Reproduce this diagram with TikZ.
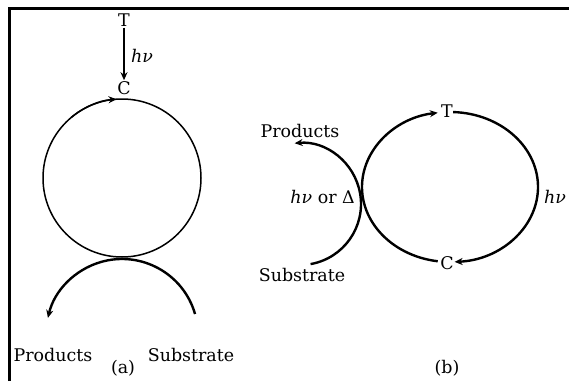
\documentclass[tikz,border=0pt]{standalone}
\usepackage{fontspec}
\setmainfont{DejaVu Serif}
\usetikzlibrary{arrows.meta}
\begin{document}
\begin{tikzpicture}[x=1bp,y=1bp,
  lbl/.style={inner sep=1pt,font=\fontsize{17.5}{20}\selectfont},
  thick1/.style={line width=1.5bp},
  thick2/.style={line width=2.4bp},
  tip/.style={-{Stealth[length=8bp,width=7bp]}}]
\useasboundingbox (0,0) rectangle (569,381);
% frame
\draw[line width=3bp] (9,0) -- (9,372) -- (569,372);
% (a)
\draw[thick1] (122,203) circle (79);
\draw[thick1,tip] (122,203) ++(130:79) arc (130:94:79);
\node[lbl] (Ta) at (124,361) {T};
\node[lbl] (Ca) at (124,293) {C};
\draw[line width=1.8bp,tip] (Ta) -- (Ca);
\node[lbl,anchor=west] (hva) at (130,325) {\textit{hν}};
\draw[thick2,tip] (122,46) ++(16:76) arc (16:167:76);
\node[lbl] (Pa) at (53,26) {Products};
\node[lbl] (Sa) at (191,26) {Substrate};
\node[lbl] (a) at (123,13) {(a)};
% (b)
\node[lbl] (Tb) at (447,270) {T};
\node[lbl] (Cb) at (447,118) {C};
\draw[thick2,tip] (450,194) ++(262:88 and 75) arc (262:98:88 and 75);
\draw[thick2,tip] (450,194) ++(88:88 and 75) arc (88:-87:88 and 75);
\draw[thick2,tip] (300,177) ++(-80:61) arc (-80:95:61);
\node[lbl] (Pb) at (300,250) {Products};
\node[lbl,anchor=east] (hvb) at (356,184) {\textit{hν} or Δ};
\node[lbl] (Sb) at (302,106) {Substrate};
\node[lbl,anchor=west] (hvr) at (543,184) {\textit{hν}};
\node[lbl] (b) at (447,13) {(b)};
\end{tikzpicture}
\end{document}
